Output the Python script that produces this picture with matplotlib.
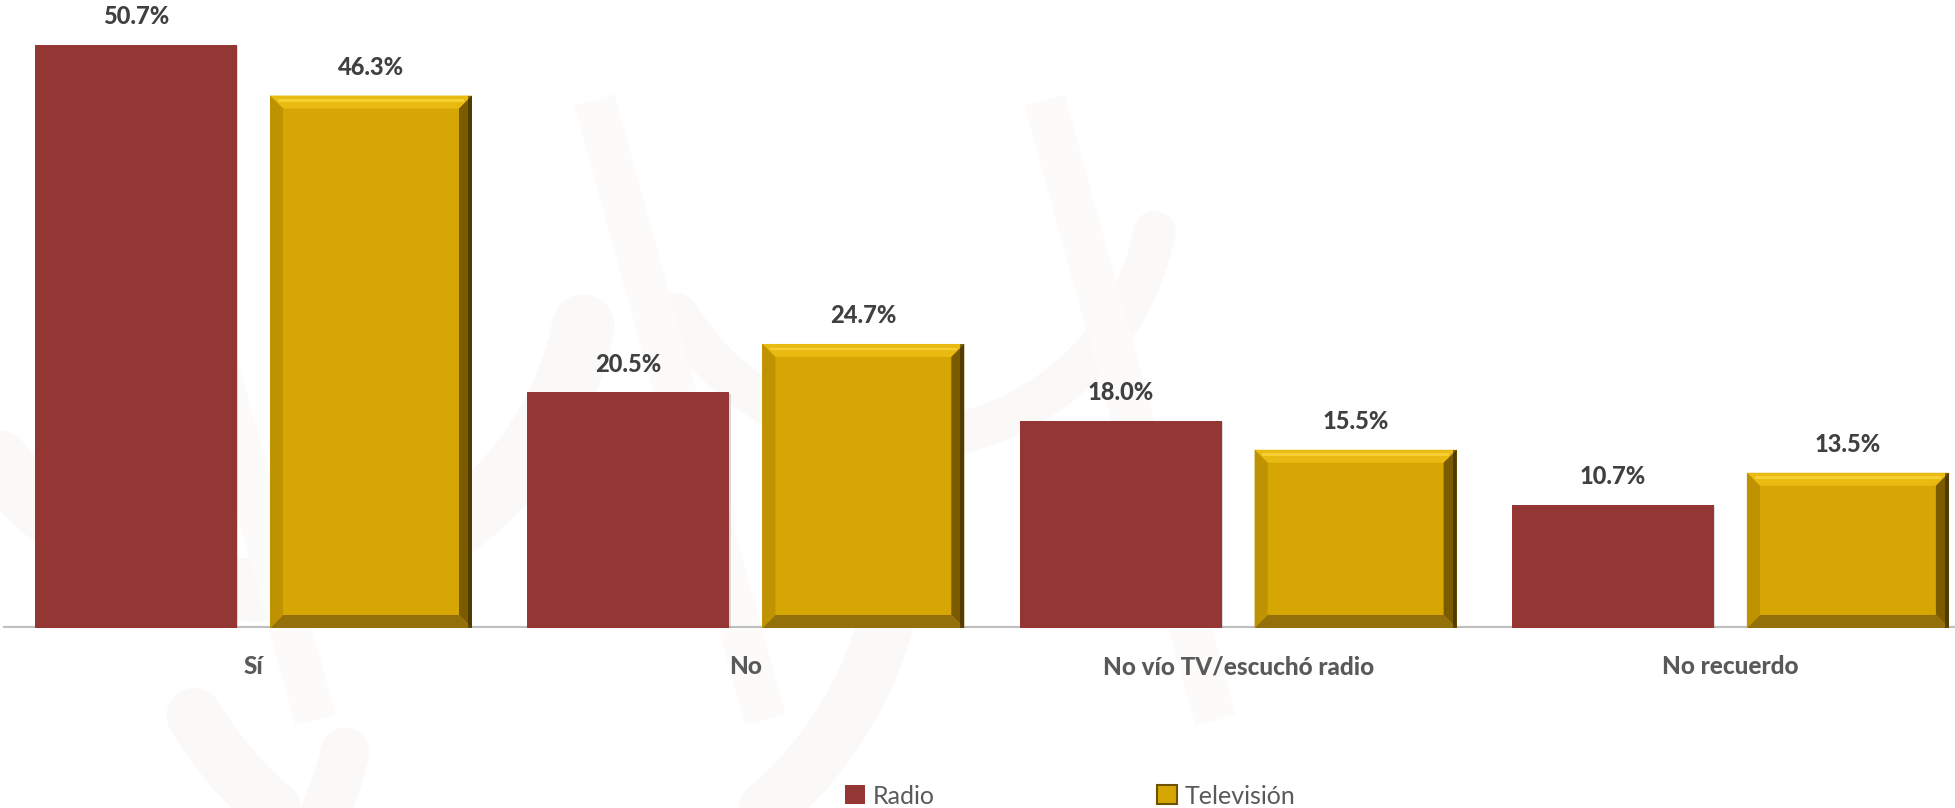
import numpy as np
import matplotlib.pyplot as plt
from matplotlib.patches import Polygon, Rectangle
import matplotlib.patheffects as pe

categories = ['Sí', 'No', 'No vío TV/escuchó radio', 'No recuerdo']
radio = [50.7, 20.5, 18.0, 10.7]
television = [46.3, 24.7, 15.5, 13.5]

radio_color = '#943634'
tv_color = '#D6A604'
text_color = '#404040'

plt.rcParams['font.family'] = ['Lato', 'DejaVu Sans']

W, H = 1955, 808
fig = plt.figure(figsize=(W / 100, H / 100), dpi=100)
fig.patch.set_facecolor('white')

# faint watermark in the background
bg = fig.add_axes([0, 0, 1, 1], zorder=0)
bg.set_xlim(0, W)
bg.set_ylim(H, 0)
bg.axis('off')
for cx, cy, r, lw in [(260, 260, 330, 45), (520, 520, 380, 40), (90, 700, 260, 35),
                      (900, 180, 260, 30), (640, 820, 300, 40)]:
    t = np.linspace(0.2, 2.6, 80)
    bg.plot(cx + r * np.cos(t), cy + r * np.sin(t), color='#FBF9F7', lw=lw,
            solid_capstyle='round', zorder=0)
for x0 in [150, 600, 1050]:
    bg.plot([x0, x0 + 160], [120, 700], color='#FCFBF9', lw=30, zorder=0)

baseline = 628
px_per_pct = 11.5
group_px = 492.3
center0 = 253.5

ax = fig.add_axes([0, (H - baseline) / H, 1, baseline / H], zorder=1)
ax.patch.set_alpha(0)
ax.set_ylim(0, baseline / px_per_pct)
ax.set_xlim(-center0 / group_px, (W - center0) / group_px)
ax.axis('off')

x = np.arange(len(categories))
width = 202 / group_px
off = (101 + 16.5) / group_px

rb = ax.bar(x - off, radio, width, color=radio_color, zorder=3)
for p in rb:
    p.set_path_effects([pe.SimplePatchShadow(offset=(1, -1), shadow_rgbFace='#999999', alpha=0.35),
                        pe.Normal()])
tb = ax.bar(x + off, television, width, color=tv_color, zorder=3)

# bevel on the television bars
bx = 13 / group_px
by = 13 / px_per_pct
for p in tb:
    x0, y0 = p.get_x(), p.get_y()
    x1, y1 = x0 + p.get_width(), y0 + p.get_height()
    faces = [
        ([(x0, y1), (x1, y1), (x1 - bx, y1 - by), (x0 + bx, y1 - by)], '#E9BA12'),
        ([(x1, y1), (x1, y0), (x1 - bx, y0 + by), (x1 - bx, y1 - by)], '#7A5B00'),
        ([(x0, y0), (x1, y0), (x1 - bx, y0 + by), (x0 + bx, y0 + by)], '#94700A'),
        ([(x0, y0), (x0, y1), (x0 + bx, y1 - by), (x0 + bx, y0 + by)], '#BE9200'),
    ]
    for pts, c in faces:
        ax.add_patch(Polygon(pts, closed=True, facecolor=c, edgecolor='none', zorder=4))
    ax.add_patch(Rectangle((x1 - bx * 0.3, y0), bx * 0.3, y1 - y0, facecolor='#2E2200',
                           edgecolor='none', alpha=0.55, zorder=5))
    ax.add_patch(Rectangle((x0 + bx * 0.6, y1 - by * 0.5), x1 - x0 - bx * 1.2, by * 0.22,
                           facecolor='#FFE04A', edgecolor='none', alpha=0.6, zorder=5))

for bars, vals in [(rb, radio), (tb, television)]:
    for p, v in zip(bars, vals):
        ax.text(p.get_x() + p.get_width() / 2, v + 1.45, f'{v:.1f}%', ha='center', va='bottom',
                fontsize=17, fontweight='black', color=text_color, zorder=6)

# category axis line
ax.axhline(0, xmin=5 / W, xmax=1, color='#BFBFBF', lw=3, zorder=2)

for i, c in enumerate(categories):
    ax.text(i, -39 / px_per_pct, c, ha='center', va='center', fontsize=17.5,
            fontweight='black', color='#595959', zorder=6)

handles = [Rectangle((0, 0), 1, 1, facecolor=radio_color),
           Rectangle((0, 0), 1, 1, facecolor=tv_color, edgecolor='#6E5200', lw=1.5)]
fig.legend(handles, ['Radio', 'Televisión'], loc='center', bbox_to_anchor=(1070 / W, 1 - 796 / H),
           ncol=2, frameon=False, fontsize=18, labelcolor='#595959', handlelength=0.8,
           handleheight=0.8, handletextpad=0.3, columnspacing=8.9)

fig.savefig('out.png', dpi=100, facecolor='white')
